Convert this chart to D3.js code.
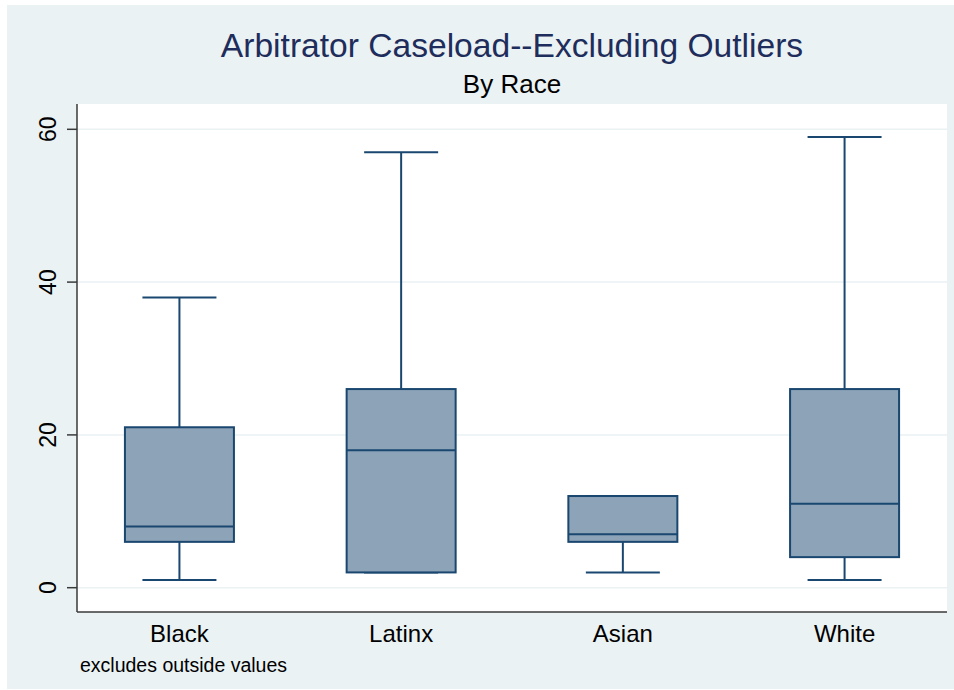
<!DOCTYPE html>
<html><head><meta charset="utf-8">
<script src="https://cdn.jsdelivr.net/npm/d3@7"></script>
<style>body{margin:0;background:#fff;font-family:"Liberation Sans",Helvetica,Arial,sans-serif}</style>
</head><body>
<script>
const categories = ["Black","Latinx","Asian","White"];
const lowerWhisker = [1, 2, 2, 1];
const q1 = [6, 2, 6, 4];
const median = [8, 18, 7, 11];
const q3 = [21, 26, 12, 26];
const upperWhisker = [38, 57, 12, 59];
const yTicks = [0, 20, 40, 60];
const title = "Arbitrator Caseload--Excluding Outliers";
const subtitle = "By Race";
const note = "excludes outside values";

const W = 954, H = 690;
const svg = d3.select("body").append("svg").attr("width", W).attr("height", H);
svg.append("rect").attr("x",7).attr("y",5).attr("width",947).attr("height",684).attr("fill","#EAF2F3");

const pl = 77, pr = 947, pt = 104, pb = 612;
svg.append("rect").attr("x",pl).attr("y",pt).attr("width",pr-pl).attr("height",pb-pt).attr("fill","#fff");

const y = d3.scaleLinear().domain([0,60]).range([587.7,129.3]);
const x = d3.scalePoint().domain(categories).range([pl,pr]).padding(0.462);
const boxW = 109, capW = 74;

// gridlines
svg.append("g").selectAll("line").data(yTicks).join("line")
  .attr("x1",pl).attr("x2",pr).attr("y1",d=>y(d)).attr("y2",d=>y(d))
  .attr("stroke","#EAF2F3").attr("stroke-width",1.5);

const stroke = "#1A476F";
const data = categories.map((c,i)=>({c, lo:lowerWhisker[i], q1:q1[i], med:median[i], q3:q3[i], hi:upperWhisker[i]}));
const g = svg.append("g").selectAll("g").data(data).join("g");
// whiskers
g.append("line").attr("x1",d=>x(d.c)).attr("x2",d=>x(d.c)).attr("y1",d=>y(d.q3)).attr("y2",d=>y(d.hi)).attr("stroke",stroke).attr("stroke-width",2);
g.append("line").attr("x1",d=>x(d.c)).attr("x2",d=>x(d.c)).attr("y1",d=>y(d.q1)).attr("y2",d=>y(d.lo)).attr("stroke",stroke).attr("stroke-width",2);
g.append("line").attr("x1",d=>x(d.c)-capW/2).attr("x2",d=>x(d.c)+capW/2).attr("y1",d=>y(d.hi)).attr("y2",d=>y(d.hi)).attr("stroke",stroke).attr("stroke-width",2);
g.append("line").attr("x1",d=>x(d.c)-capW/2).attr("x2",d=>x(d.c)+capW/2).attr("y1",d=>y(d.lo)).attr("y2",d=>y(d.lo)).attr("stroke",stroke).attr("stroke-width",2);
// box
g.append("rect").attr("x",d=>x(d.c)-boxW/2).attr("width",boxW).attr("y",d=>y(d.q3)).attr("height",d=>y(d.q1)-y(d.q3))
  .attr("fill","#8DA3B8").attr("stroke",stroke).attr("stroke-width",2);
g.append("line").attr("x1",d=>x(d.c)-boxW/2).attr("x2",d=>x(d.c)+boxW/2).attr("y1",d=>y(d.med)).attr("y2",d=>y(d.med)).attr("stroke",stroke).attr("stroke-width",2);

// axes
const axisColor = "#3a3a3a";
svg.append("line").attr("x1",pl).attr("x2",pl).attr("y1",pt).attr("y2",pb).attr("stroke",axisColor).attr("stroke-width",1.5);
svg.append("line").attr("x1",pl).attr("x2",pr).attr("y1",pb).attr("y2",pb).attr("stroke",axisColor).attr("stroke-width",1.5);
svg.append("g").selectAll("line").data(yTicks).join("line")
  .attr("x1",pl-10).attr("x2",pl).attr("y1",d=>y(d)).attr("y2",d=>y(d)).attr("stroke",axisColor).attr("stroke-width",1.5);
svg.append("g").selectAll("text").data(yTicks).join("text")
  .attr("transform",d=>`translate(56,${y(d)}) rotate(-90)`).attr("text-anchor","middle")
  .attr("font-size",23).attr("fill","#000").text(d=>d);
svg.append("g").selectAll("text").data(categories).join("text")
  .attr("x",d=>x(d)).attr("y",641.5).attr("text-anchor","middle").attr("font-size",24).attr("fill","#000").text(d=>d);

svg.append("text").attr("x",(pl+pr)/2).attr("y",56.5).attr("text-anchor","middle").attr("font-size",33.6).attr("fill","#1E2D5B").text(title);
svg.append("text").attr("x",(pl+pr)/2).attr("y",93).attr("text-anchor","middle").attr("font-size",26).attr("fill","#000").text(subtitle);
svg.append("text").attr("x",80).attr("y",672).attr("font-size",19.5).attr("fill","#000").text(note);
</script>
</body></html>
